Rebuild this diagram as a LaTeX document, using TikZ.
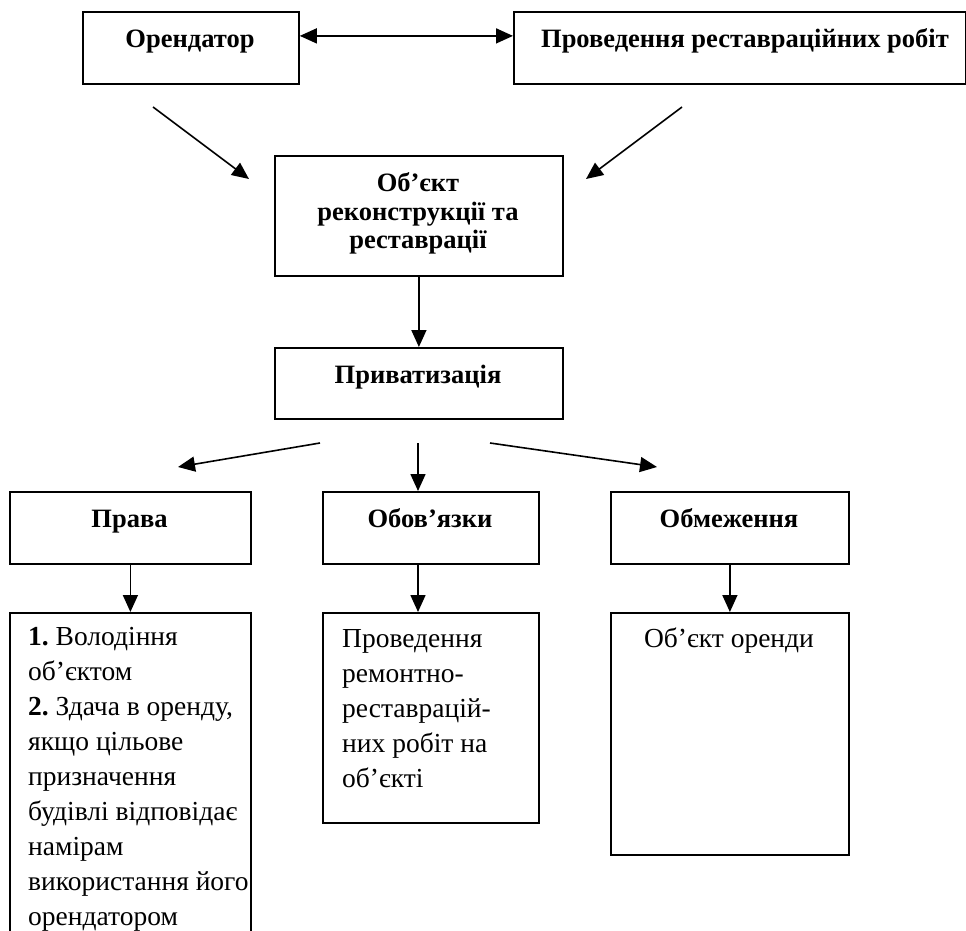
\documentclass[tikz,border=0pt]{standalone}
\usepackage{fontspec}
\setmainfont{Liberation Serif}
\usetikzlibrary{arrows.meta}
\frenchspacing
\begin{document}
\begin{tikzpicture}[x=1pt,y=-1pt,
  box/.style={draw, line width=1.8pt, inner sep=0pt, anchor=north west},
  hd/.style={font=\bfseries\fontsize{26.5}{29}\selectfont, anchor=base, inner sep=0pt},
  bt/.style={font=\frenchspacing\fontsize{27.5}{35}\selectfont, inner sep=0pt},
  arr/.style={line width=1.6pt, -{Triangle[length=17pt,width=15pt]}},
  darr/.style={line width=1.6pt, {Triangle[length=17pt,width=15pt]}-{Triangle[length=17pt,width=15pt]}}]
\useasboundingbox (0,0) rectangle (966,931);
% boxes
\node[box, minimum width=216, minimum height=72] (orend) at (82,11) {};
\node[box, minimum width=452, minimum height=72] (prov) at (513,11) {};
\node[box, minimum width=288, minimum height=120] (obj) at (274,155) {};
\node[box, minimum width=288, minimum height=71] (priv) at (274,347) {};
\node[box, minimum width=241, minimum height=72] (prava) at (9,491) {};
\node[box, minimum width=216, minimum height=72] (oboz) at (322,491) {};
\node[box, minimum width=238, minimum height=72] (obmez) at (610,491) {};
\node[box, minimum width=241, minimum height=360] (dleft) at (9,612) {};
\node[box, minimum width=216, minimum height=210] (dmid) at (322,612) {};
\node[box, minimum width=238, minimum height=242] (dright) at (610,612) {};
% headings
\node[hd] (t1) at (190,48) {Орендатор};
\node[hd] (t2) at (745,48) {Проведення реставраційних робіт};
\node[hd] (t3a) at (418,191) {Об’єкт};
\node[hd] (t3b) at (418,220) {реконструкції та};
\node[hd] (t3c) at (418,248) {реставрації};
\node[hd] (t4) at (418,383) {Приватизація};
\node[hd] (t5) at (129.5,527) {Права};
\node[hd] (t6) at (430,527) {Обов’язки};
\node[hd] (t7) at (729,527) {Обмеження};
% body texts
\node[bt, anchor=base west, text width=240, align=flush left] (b1) at (28,645)
  {\textbf{1.} Володіння\\об’єктом\\\textbf{2.} Здача в оренду,\\якщо цільове\\призначення\\будівлі відповідає\\намірам\\використання його\\орендатором};
\node[bt, anchor=base west, text width=200, align=flush left] (b2) at (342,647)
  {Проведення\\ремонтно-\\реставрацій-\\них робіт на\\об’єкті};
\node[bt, anchor=base] (b3) at (729,647) {Об’єкт оренди};
% connectors
\draw[darr] ([yshift=12pt]orend.east) -- ([yshift=12pt]prov.west);
\coordinate (ls) at (153,107);
\coordinate (le) at (249,179);
\coordinate (rs) at (682,107);
\coordinate (re) at (586,179);
\draw[arr] (ls) -- (le);
\draw[arr] (rs) -- (re);
\draw[arr] (obj.south) -- (priv.north);
\coordinate (fl) at (320,443);
\coordinate (fle) at (178,467);
\coordinate (fc) at (418,443);
\coordinate (fr) at (490,443);
\coordinate (fre) at (657,467);
\draw[arr] (fl) -- (fle);
\draw[arr] (fc) -- (oboz.north -| fc);
\draw[arr] (fr) -- (fre);
\draw[arr] (prava.south) -- (dleft.north);
\draw[arr] (oboz.south -| fc) -- (dmid.north -| fc);
\draw[arr] (obmez.south) -- (dright.north);
\end{tikzpicture}
\end{document}
